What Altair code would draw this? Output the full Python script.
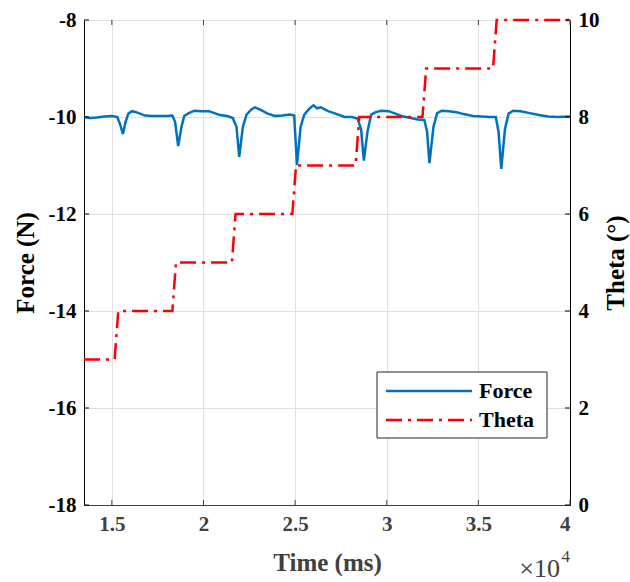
import altair as alt
import pandas as pd

# ---- data ----
force_t = [13480, 13800, 14200, 14600, 15000, 15300, 15450, 15600, 15750, 15900,
           16100, 16400, 16800, 17200, 17600, 18000, 18300, 18450, 18620, 18800,
           18950, 19200, 19500, 19900, 20300, 20600, 20900, 21300, 21600, 21800,
           21950, 22150, 22350, 22600, 22800, 23100, 23500, 23900, 24300, 24700,
           24950, 25100, 25300, 25500, 25800, 26000, 26200, 26400, 26800, 27200,
           27700, 28100, 28400, 28600, 28750, 28950, 29150, 29400, 29700, 30100,
           30400, 30800, 31300, 31700, 32050, 32200, 32330, 32550, 32750, 33000,
           33400, 33800, 34200, 34700, 35200, 35600, 35950, 36100, 36250, 36450,
           36650, 36900, 37300, 37800, 38300, 38800, 39300, 40000]
force_v = [-10.00, -10.02, -10.01, -9.99, -9.98, -10.00, -10.15, -10.35, -10.10, -9.93,
           -9.88, -9.91, -9.97, -9.98, -9.98, -9.98, -9.97, -10.10, -10.60, -10.20,
           -9.98, -9.92, -9.87, -9.88, -9.88, -9.92, -9.96, -9.98, -10.02, -10.20,
           -10.82, -10.20, -9.95, -9.85, -9.80, -9.85, -9.93, -9.98, -9.97, -9.95,
           -9.97, -10.99, -10.20, -9.95, -9.82, -9.76, -9.82, -9.80, -9.88, -9.93,
           -10.00, -10.00, -10.03, -10.25, -10.90, -10.30, -9.95, -9.90, -9.87, -9.88,
           -9.92, -9.98, -10.02, -10.05, -10.06, -10.30, -10.95, -10.20, -9.92, -9.87,
           -9.88, -9.90, -9.94, -9.98, -9.99, -10.00, -10.00, -10.30, -11.07, -10.25,
           -9.93, -9.87, -9.88, -9.92, -9.96, -9.99, -10.00, -9.99]

theta_t = [13480, 15150, 15350, 18300, 18500, 21550, 21750, 24850, 25050,
           28300, 28500, 31950, 32150, 35800, 36000, 40000]
theta_v = [3, 3, 4, 4, 5, 5, 6, 6, 7, 7, 8, 8, 9, 9, 10, 10]

x_ticks = [15000, 20000, 25000, 30000, 35000, 40000]
force_ticks = [-18, -16, -14, -12, -10, -8]
theta_ticks = [0, 2, 4, 6, 8, 10]
series_names = ["Force", "Theta"]
series_colors = ["#0072BD", "#FF0000"]

W, H = 486, 485
FONT = "Liberation Serif"
GRAY = "#404040"
GRID = "#e0e0e0"

force_df = pd.DataFrame({"t": force_t, "v": force_v})
theta_df = pd.DataFrame({"t": theta_t, "v": theta_v})
xt_df = pd.DataFrame({"t": x_ticks})
ft_df = pd.DataFrame({"v": force_ticks})
tt_df = pd.DataFrame({"v": theta_ticks})
leg_df = pd.DataFrame({"series": series_names})

x_scale = alt.Scale(domain=[13480, 40000], nice=False, zero=False)
f_scale = alt.Scale(domain=[-18, -8], nice=False, zero=False)
th_scale = alt.Scale(domain=[0, 10], nice=False, zero=False)

x_axis = alt.Axis(values=x_ticks, labelExpr="'' + datum.value/10000", title="Time (ms)",
                  grid=True, gridColor=GRID, ticks=False, domainColor=GRAY,
                  labelColor=GRAY, titleColor=GRAY, labelFont=FONT, titleFont=FONT,
                  labelFontSize=21, titleFontSize=25, labelFontWeight="bold",
                  titleFontWeight="bold", labelPadding=8, titlePadding=16)
f_axis = alt.Axis(orient="left", values=force_ticks, labelExpr="'' + datum.value",
                  title="Force (N)", grid=True,
                  gridColor=GRID, ticks=False, domainColor="black",
                  labelColor="black", titleColor="black", labelFont=FONT,
                  titleFont=FONT, labelFontSize=21, titleFontSize=25,
                  labelFontWeight="bold", titleFontWeight="bold",
                  labelPadding=8, titlePadding=10)
th_axis = alt.Axis(orient="right", values=theta_ticks, labelExpr="'' + datum.value",
                   title="Theta (°)", grid=False,
                   ticks=False, domainColor="black", labelColor="black",
                   titleColor="black", labelFont=FONT, titleFont=FONT,
                   labelFontSize=21, titleFontSize=25, labelFontWeight="bold",
                   titleFontWeight="bold", labelPadding=8, titlePadding=4,
                   titleAngle=270, titleBaseline="top")

X = alt.X("t:Q", scale=x_scale, axis=x_axis, title="Time (ms)")
YF = alt.Y("v:Q", scale=f_scale, axis=f_axis, title="Force (N)")
YT = alt.Y("v:Q", scale=th_scale, axis=th_axis, title="Theta (°)")

force_line = alt.Chart(force_df).mark_line(strokeWidth=2.5, color=series_colors[0]).encode(
    x=X, y=YF)
left_ticks = alt.Chart(ft_df).mark_rule(color="black", strokeWidth=1).encode(
    y=YF, x=alt.value(0), x2=alt.value(5))
bottom_ticks = alt.Chart(xt_df).mark_rule(color=GRAY, strokeWidth=1).encode(
    x=X, y=alt.value(H), y2=alt.value(H - 5))
top_ticks = alt.Chart(xt_df).mark_rule(color=GRAY, strokeWidth=1).encode(
    x=X, y=alt.value(0), y2=alt.value(5))
mult = alt.Chart(xt_df).transform_filter("datum.t == 40000").mark_text(
    font=FONT, fontSize=26, color=GRAY, align="right", baseline="alphabetic", dx=-10
).encode(x=X, y=alt.value(H + 72), text=alt.value("×10"))
sup = alt.Chart(xt_df).transform_filter("datum.t == 40000").mark_text(
    font=FONT, fontSize=17, color=GRAY, align="right", baseline="alphabetic", dx=0
).encode(x=X, y=alt.value(H + 57), text=alt.value("4"))

left_layer = alt.layer(force_line, left_ticks, bottom_ticks, top_ticks, mult, sup)

theta_line = alt.Chart(theta_df).mark_line(
    strokeWidth=2.5, strokeCap="butt", color=series_colors[1], strokeDash=[16, 6, 3, 6]
).encode(x=X, y=YT)
right_ticks = alt.Chart(tt_df).mark_rule(color="black", strokeWidth=1).encode(
    y=YT, x=alt.value(W), x2=alt.value(W - 5))

# legend (box, line samples, labels)
LX0, LX1, LY0, LY1 = 293, 463, 352, 418
leg_box = alt.Chart(leg_df).transform_filter("datum.series == 'Force'").mark_rect(
    fill="white", stroke="#262626", strokeWidth=1
).encode(x=alt.value(LX0), x2=alt.value(LX1), y=alt.value(LY0), y2=alt.value(LY1))
leg_f = alt.Chart(leg_df).transform_filter("datum.series == 'Force'").mark_rule(
    color=series_colors[0], strokeWidth=2.5
).encode(x=alt.value(302), x2=alt.value(388), y=alt.value(371))
leg_t = alt.Chart(leg_df).transform_filter("datum.series == 'Theta'").mark_rule(
    color=series_colors[1], strokeWidth=2.5, strokeDash=[16, 6, 3, 6], strokeCap="butt"
).encode(x=alt.value(302), x2=alt.value(388), y=alt.value(400))
leg_txt_f = alt.Chart(leg_df).transform_filter("datum.series == 'Force'").mark_text(
    font=FONT, fontSize=22, fontWeight="bold", color="black", align="left", baseline="middle"
).encode(x=alt.value(395), y=alt.value(371), text="series:N")
leg_txt_t = alt.Chart(leg_df).transform_filter("datum.series == 'Theta'").mark_text(
    font=FONT, fontSize=22, fontWeight="bold", color="black", align="left", baseline="middle"
).encode(x=alt.value(395), y=alt.value(400), text="series:N")

right_layer = alt.layer(theta_line, right_ticks, leg_box, leg_f, leg_t, leg_txt_f, leg_txt_t)

chart = alt.layer(left_layer, right_layer).resolve_scale(y="independent").properties(
    width=W, height=H,
    autosize=alt.AutoSizeParams(type="none"),
    padding={"left": 84, "top": 20, "right": 60, "bottom": 77},
).configure_view(stroke="#262626", strokeWidth=1).configure(background="white")

chart.save("out.html", embed_options={"renderer": "svg", "actions": False})
